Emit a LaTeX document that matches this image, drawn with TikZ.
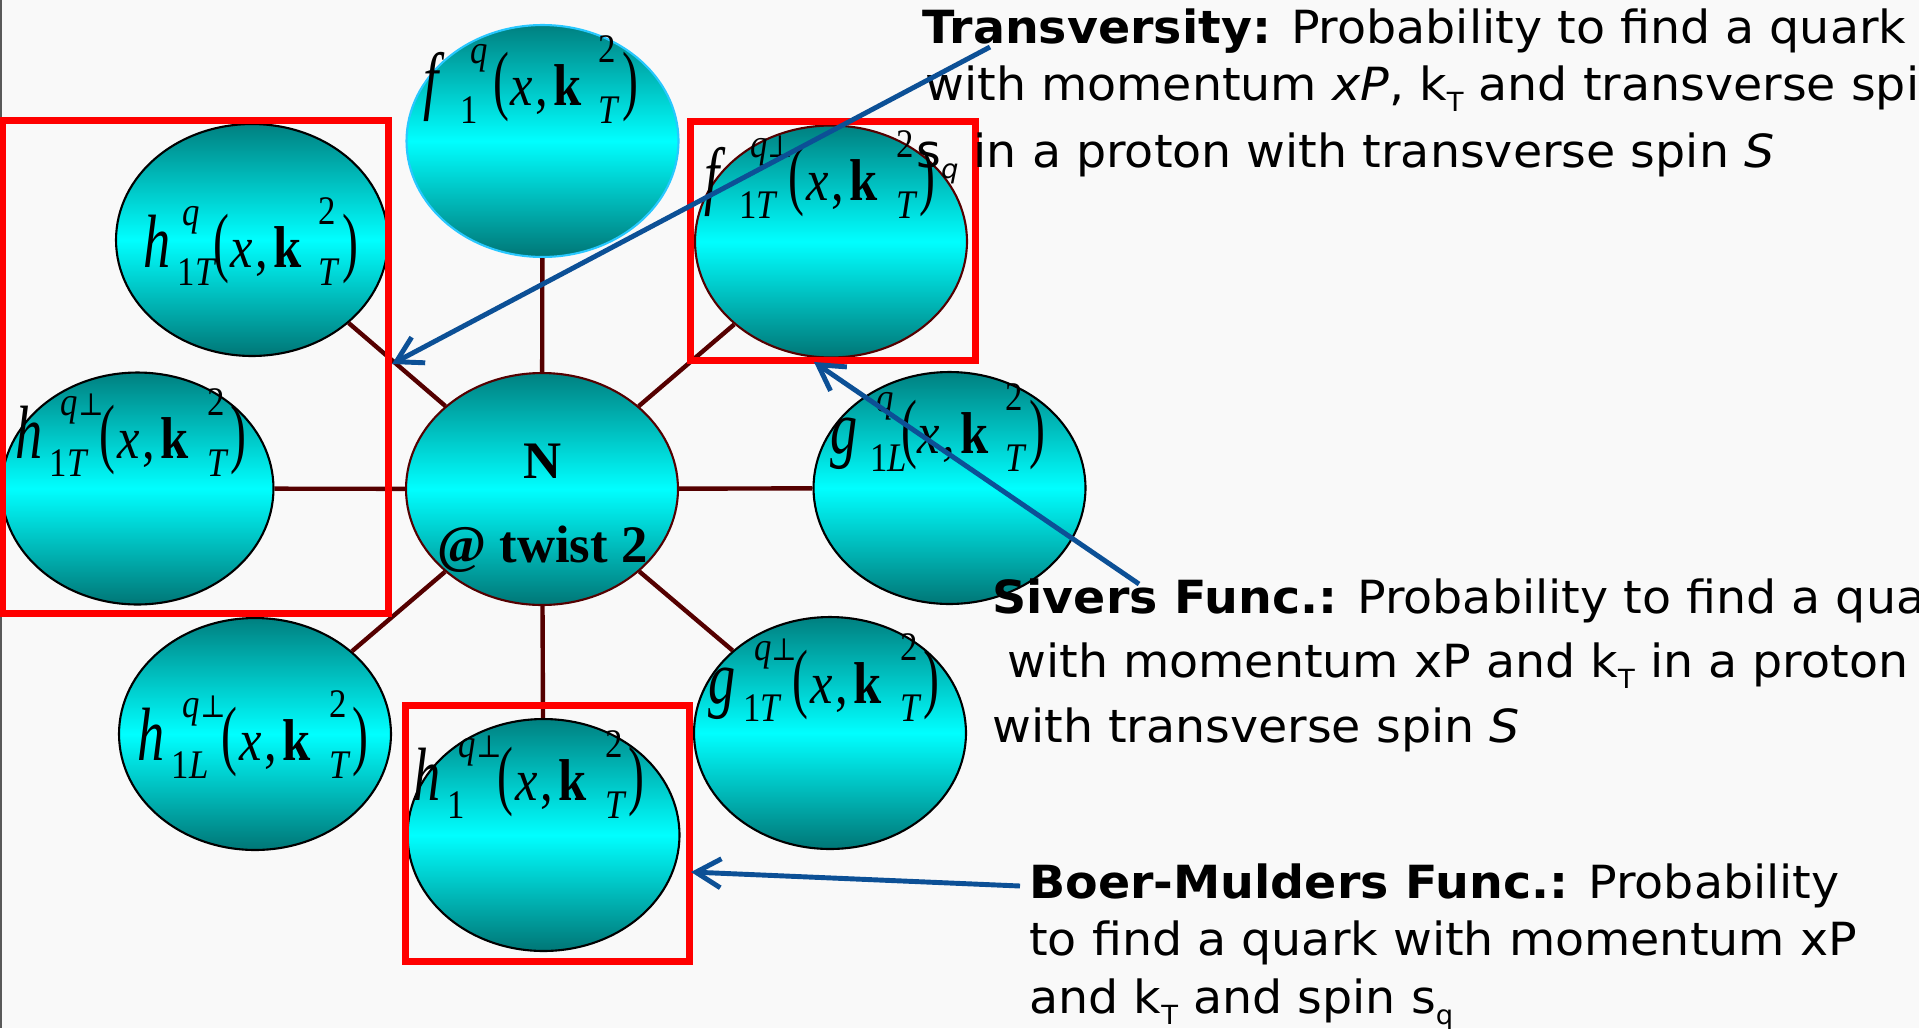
\documentclass[tikz,border=0pt]{standalone}
\usepackage{fontspec}
\usepackage{graphicx}
\usetikzlibrary{shapes.geometric,arrows.meta}
\setmainfont{Liberation Serif}
\newfontfamily\tms{Liberation Serif}
\newfontfamily\dvs{DejaVu Sans}[FakeStretch=1.04]
\newfontfamily\perpf{DejaVu Serif}

\definecolor{tealc}{RGB}{0,128,128}
\definecolor{tealb}{RGB}{0,118,118}
\definecolor{cyanc}{RGB}{0,255,255}
\definecolor{maroonc}{RGB}{85,0,0}
\definecolor{bluec}{RGB}{12,80,150}
\definecolor{bgc}{RGB}{249,249,249}
\definecolor{redc}{RGB}{255,0,0}
\definecolor{fedge}{RGB}{40,200,255}

\newlength\px \setlength\px{0.5690551pt}
\newcommand\pc[3]{\rlap{\hspace*{#1\px}\raisebox{#2\px}{#3}}}
\newcommand\bF[1]{\scalebox{0.72}[1]{\tms\itshape\fontsize{43pt}{43pt}\selectfont #1}}
\newcommand\mF[1]{\scalebox{0.9}[1.05]{\tms\fontsize{32pt}{32pt}\selectfont #1}}
\newcommand\sF[1]{\scalebox{0.9}[1.05]{\tms\fontsize{22pt}{22pt}\selectfont #1}}
\newcommand\pF[1]{\scalebox{0.85}[1.37]{\tms\fontsize{32pt}{32pt}\selectfont #1}}
\newcommand\qperp{{\itshape q}{\perpf\fontsize{17pt}{17pt}\selectfont ⊥}}
% formula without perp: base, sup offset, sub, sub offset
\newcommand\fmlA[4]{%
\pc{0}{0}{\bF{#1}}%
\pc{#2}{42}{\sF{\itshape q}}%
\pc{#4}{-18}{\sF{#3}}%
\pc{71}{0}{\pF{(}}%
\pc{88}{0}{\mF{\itshape x}}%
\pc{113}{0}{\mF{,}}%
\pc{131}{0}{\mF{\bfseries k}}%
\pc{176}{43}{\sF{2}}%
\pc{176}{-18}{\sF{\itshape T}}%
\pc{200}{0}{\pF{)}}%
\hspace*{217\px}}
% formula with perp: base, sub
\newcommand\fmlB[2]{%
\pc{0}{0}{\bF{#1}}%
\pc{46}{43}{\sF{\qperp}}%
\pc{35}{-18}{\sF{#2}}%
\pc{85}{0}{\pF{(}}%
\pc{103}{0}{\mF{\itshape x}}%
\pc{128}{0}{\mF{,}}%
\pc{146}{0}{\mF{\bfseries k}}%
\pc{193}{43}{\sF{2}}%
\pc{193}{-18}{\sF{\itshape T}}%
\pc{216}{0}{\pF{)}}%
\hspace*{232\px}}
\newcommand\sbs[1]{\raisebox{-0.26em}{\fontsize{15pt}{15pt}\selectfont #1}}

\tikzset{
  tmd/.style={ellipse, minimum width=5.44cm, minimum height=4.64cm, inner sep=0pt,
    top color=tealc, bottom color=tealb, middle color=cyanc, draw=black, line width=1.2pt},
  link/.style={draw=maroonc, line width=2.5pt},
  rbox/.style={rectangle, draw=redc, line width=4pt, inner sep=0pt},
  barrow/.style={draw=bluec, line width=2.8pt, -{Straight Barb[length=0.5cm,width=0.58cm]}},
  fm/.style={anchor=base west, inner sep=0pt, outer sep=0pt},
  ntx/.style={anchor=base, inner sep=0pt, font=\tms\bfseries\fontsize{30pt}{30pt}\selectfont},
  stx/.style={anchor=base west, inner sep=0pt, font=\dvs\fontsize{26pt}{26pt}\selectfont}
}

\begin{document}
\begin{tikzpicture}[x=0.02cm,y=-0.02cm]
\useasboundingbox (0,0) rectangle (1919,1028);
\clip (0,0) rectangle (1919,1028);
\fill[bgc] (0,0) rectangle (1919,1028);
\draw[black!65, line width=0.9pt] (1,0) -- (1,1028);

% ellipses
\node[tmd, draw=fedge] (f1) at (542.5,141) {};
\node[tmd] (h1T) at (252,240) {};
\node[tmd, draw=maroonc] (f1T) at (831,241.5) {};
\node[tmd] (h1Tp) at (137.5,488.5) {};
\node[tmd, draw=maroonc] (N) at (542,489) {};
\node[tmd] (g1L) at (949.5,488) {};
\node[tmd] (h1Lp) at (255,734) {};
\node[tmd] (g1Tp) at (830,733) {};
\node[tmd] (h1p) at (543.5,835) {};

% links
\foreach \t in {f1,h1T,f1T,h1Tp,g1L,h1Lp,g1Tp,h1p}
  \draw[link] (N) -- (\t);

% formulas
\node[fm] (lf1) at (423,105) {\fmlA{f}{48}{1}{37}};
\node[fm] (lh1T) at (143,267) {\fmlA{h}{40}{1\itshape T}{35}};
\node[fm] (lf1T) at (704,200) {\fmlB{f}{1\itshape T}};
\node[fm] (lh1Tp) at (15,458) {\fmlB{h}{1\itshape T}};
\node[fm] (lg1L) at (830,453) {\fmlA{g}{46}{1\itshape L}{40}};
\node[fm] (lh1Lp) at (137,760) {\fmlB{h}{1\itshape L}};
\node[fm] (lg1Tp) at (708,703) {\fmlB{g}{1\itshape T}};
\node[fm] (lh1p) at (413,800) {\fmlB{h}{1}};

\node[ntx] (Nt1) at (542.5,478) {N};
\node[ntx] (Nt2) at (542.5,562) {@ twist 2};

% red frames
\node[rbox, minimum width=7.73cm, minimum height=9.87cm] (boxA) at (195.75,367.25) {};
\node[rbox, minimum width=5.71cm, minimum height=4.8cm] (boxB) at (832.75,241) {};
\node[rbox, minimum width=5.69cm, minimum height=5.13cm] (boxC) at (547.75,833.25) {};

% texts
\node[stx] (t1) at (922,43) {\textbf{Transversity:} Probability to find a quark};
\node[stx] (t2) at (925,100) {with momentum \textit{xP}, k\sbs{T} and transverse spin};
\node[stx] (t3) at (916,167) {s\sbs{\textit{q}} in a proton with transverse spin \textit{S}};

\node[stx] (s1) at (992,613) {\textbf{Sivers Func.:} Probability to find a quark};
\node[stx] (s2) at (1007,677) {with momentum xP and k\sbs{T} in a proton};
\node[stx] (s3) at (992,742) {with transverse spin \textit{S}};

\node[stx] (b1) at (1029,898) {\textbf{Boer-Mulders Func.:} Probability};
\node[stx] (b2) at (1029,955) {to find a quark with momentum xP};
\node[stx] (b3) at (1029,1013) {and k\sbs{T} and spin s\sbs{q}};

% arrows
\coordinate (tS) at (990,47);
\coordinate (tT) at (392,364);
\coordinate (sS) at (1139,584);
\coordinate (sT) at (814,362);
\coordinate (bS) at (1020,886);
\coordinate (bT) at (691,872);
\draw[barrow] (tS) -- (tT);
\draw[barrow] (sS) -- (sT);
\draw[barrow] (bS) -- (bT);
\end{tikzpicture}
\end{document}
